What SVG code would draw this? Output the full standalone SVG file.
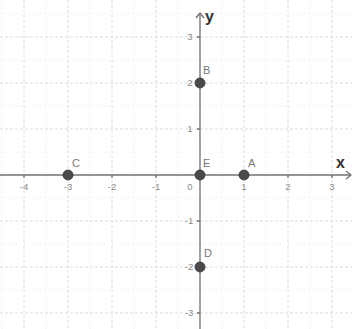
<svg xmlns="http://www.w3.org/2000/svg" width="352" height="329" viewBox="0 0 352 329">
<style>
.minor{stroke:#f0f0f0;stroke-width:1;stroke-dasharray:2 2}
.major{stroke:#dcdcdc;stroke-width:1;stroke-dasharray:3 2}
.axis{stroke:#707070;stroke-width:1.3;fill:none}
.tick{font-family:"Liberation Sans",Arial,sans-serif;font-size:9.5px;fill:#8a8a8a}
.lbl{font-family:"Liberation Sans",Arial,sans-serif;font-size:11px;fill:#777}
.ax{font-family:"Liberation Sans",Arial,sans-serif;font-size:16px;font-weight:bold;fill:#333}
.pt{fill:#4a4a4a;stroke:#333;stroke-width:0.8}
</style>
<rect width="352" height="329" fill="#fff"/>
<g id="grid">
<g class="minor">
<path d="M2 0V329M46 0V329M90 0V329M134 0V329M178 0V329M222 0V329M266 0V329M310 0V329"/>
<path d="M0 14H352M0 60H352M0 106H352M0 152H352M0 198H352M0 244H352M0 290H352"/>
</g>
<g class="major">
<path d="M24 0V329M68 0V329M112 0V329M156 0V329M244 0V329M288 0V329M332 0V329"/>
<path d="M0 37H352M0 83H352M0 129H352M0 221H352M0 267H352M0 313H352"/>
</g>
</g>
<g id="axes">
<path class="axis" d="M0 175H350M200 329V14"/>
<path class="axis" d="M346 171L351 175L346 179M196 18L200 13L204 18"/>
<path class="axis" d="M24 175v3M68 175v3M112 175v3M156 175v3M244 175v3M288 175v3M332 175v3M197 37h3M197 83h3M197 129h3M197 221h3M197 267h3M197 313h3"/>
</g>
<g id="ticklabels" class="tick" text-anchor="middle">
<text x="24" y="190">-4</text>
<text x="68" y="190">-3</text>
<text x="112" y="190">-2</text>
<text x="156" y="190">-1</text>
<text x="190" y="190">0</text>
<text x="244" y="190">1</text>
<text x="288" y="190">2</text>
<text x="332" y="190">3</text>
<text x="190" y="40">3</text>
<text x="190" y="86">2</text>
<text x="190" y="132">1</text>
<text x="189" y="224">-1</text>
<text x="189" y="270">-2</text>
<text x="189" y="316">-3</text>
</g>
<text class="ax" x="205" y="22">y</text>
<text class="ax" x="336" y="168">x</text>
<g id="A"><circle class="pt" cx="244" cy="175" r="5"/><text class="lbl" x="248" y="167">A</text></g>
<g id="B"><circle class="pt" cx="200" cy="83" r="5"/><text class="lbl" x="203" y="74">B</text></g>
<g id="C"><circle class="pt" cx="68" cy="175" r="5"/><text class="lbl" x="72" y="167">C</text></g>
<g id="D"><circle class="pt" cx="200" cy="267" r="5"/><text class="lbl" x="204" y="257">D</text></g>
<g id="E"><circle class="pt" cx="200" cy="175" r="5"/><text class="lbl" x="203" y="167">E</text></g>
<g id="connectors"></g>
</svg>
